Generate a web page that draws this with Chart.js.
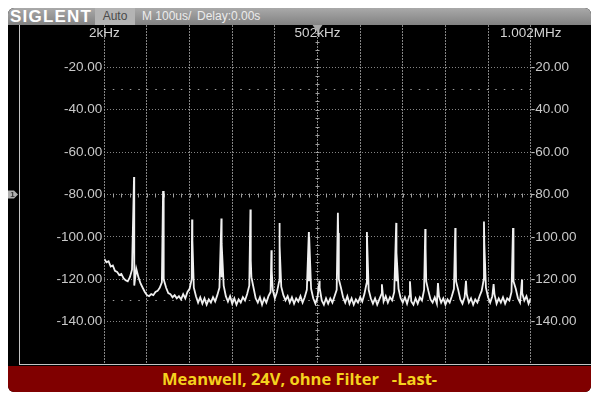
<!DOCTYPE html>
<html>
<head>
<meta charset="utf-8">
<script src="https://cdn.jsdelivr.net/npm/chart.js@4.4.1/dist/chart.umd.min.js"></script>
<style>
    body { margin: 0; width: 600px; height: 400px; background: #fff; position: relative; overflow: hidden; }
    #frame { position: absolute; left: 8px; top: 8px; width: 583px; height: 384px; background: #000; border-radius: 6px; overflow: hidden; }
    #head { position: absolute; left: 0; top: 0; width: 583px; height: 17px; background: linear-gradient(#a9a9a9, #828282); }
    #head span { position: absolute; top: 0; line-height: 17px; white-space: nowrap; }
    .brand { left: 2px; font: bold 17px "Liberation Sans", Arial, sans-serif; letter-spacing: 1.2px; color: #fff; }
    .auto { left: 87px; width: 40px; height: 17px; background: #b4b4b4; color: #4a4a4a; font: 12px "Liberation Sans", Arial, sans-serif; text-align: center; }
    .info { font: 12px "Liberation Sans", Arial, sans-serif; color: #ececec; }
    #fft { position: absolute; left: 0; top: 17px; }
    #banner { position: absolute; left: 0; top: 358px; width: 583px; height: 26px; background: #800000; color: #f5d21e;
              font: bold 16.5px "Open Sans", sans-serif; line-height: 26px; text-align: center; white-space: pre; }
</style>
</head>
<body>
<div id="frame">
    <div id="head">
        <span class="brand">SIGLENT</span>
        <span class="auto">Auto</span>
        <span class="info" style="left:134px">M 100us/</span>
        <span class="info" style="left:189px">Delay:0.00s</span>
    </div>
    <canvas id="fft" width="583" height="341"></canvas>
    <div id="banner">Meanwell, 24V, ohne Filter   -Last-</div>
</div>
<script>
// axis
const freqTicks = [2, 102, 202, 302, 402, 502, 602, 702, 802, 902, 1002];
const levelTicks = [0, -20, -40, -60, -80, -100, -120, -140, -160];
const topLabelFreqs = [2, 502, 1002];
const topLabels = ['2kHz', '502kHz', '1.002MHz'];
const refLevels = [-30, -130];

// noise floor, one value every 5 kHz starting at 2 kHz
const floorStartKHz = 2;
const floorStepKHz = 5;
const floorDb = [
    -110.5, -112, -111.5, -114, -113.5, -116, -116.5, -118, -117.5, -119.5,
    -120.5, -121, -119, -115.5, -114, -115, -119, -122, -124, -126,
    -127.5, -128, -127, -127.5, -126, -125.5, -124, -121.5, -120, -124,
    -126.5, -127, -128.5, -127.5, -129, -128, -129.5, -127, -129, -126,
    -124.5, -120, -124, -128, -131, -128.5, -131.5, -129, -132, -129.5,
    -131, -128.5, -130.5, -127.5, -124, -119, -123, -128, -130.5, -128,
    -131.5, -129, -132, -129.5, -131, -128.5, -130, -127, -123, -119,
    -124, -129, -131, -128.5, -132, -129, -131, -128, -126, -125,
    -129, -126, -121, -123.5, -127.5, -130, -128, -131, -128.5, -131.5,
    -129, -130.5, -128, -131, -128.5, -125, -121, -124.5, -129, -131.5,
    -128.5, -124, -130, -132, -129, -131.5, -129, -131, -128, -125,
    -120, -124, -128.5, -131, -128, -131.5, -129, -132, -129.5, -131,
    -128.5, -130.5, -127, -122, -125, -129, -131.5, -129, -132, -129.5,
    -127, -130.5, -128, -131, -128.5, -130, -126, -121, -124.5, -129,
    -131, -128.5, -131.5, -128, -130.5, -132, -129, -131.5, -128.5, -130,
    -125, -121, -125.5, -129.5, -131, -128.5, -131.5, -128, -131, -129,
    -132, -129.5, -131, -128, -124.5, -121, -125, -129.5, -131.5, -128.5,
    -127, -131, -129, -132, -129.5, -131, -128, -125.5, -120, -124,
    -128.5, -131, -128, -127, -131.5, -129, -131, -128.5, -131.5, -129,
    -130, -126, -121, -124.5, -129, -131, -126.5, -130, -128, -131.5,
    -129
];

// harmonics
const peakKHz = [71.7, 139.8, 207.8, 276.6, 344.7, 393.9, 412.7, 481.7, 549.8, 617.9, 686.6, 754.7, 825.1, 892.4, 960.5];
const peakDb = [-71.7, -78.3, -91.8, -91.3, -87.1, -106.3, -93.4, -97.7, -88.6, -97.7, -93.4, -96.3, -95.8, -92.7, -95.8];
const shoulderDb = [-123, -109.8, -101.6, -103.2, -111.1, -116, -104, -100, -98.2, -104, -107.5, -105.3, -104, -103, -104];

// small spurs
const spurKHz = [506.6, 653, 718.8, 784.5, 850.2, 915, 981.6];
const spurDb = [-120.7, -122.4, -121, -121.8, -120.7, -122.3, -120.1];

function buildTrace() {
    const pts = floorDb.map((v, i) => ({ x: floorStartKHz + i * floorStepKHz, y: v }));
    peakKHz.forEach((f, i) => {
        pts.push({ x: f, y: peakDb[i] });
        pts.push({ x: f + 0.8, y: shoulderDb[i] });
    });
    spurKHz.forEach((f, i) => pts.push({ x: f, y: spurDb[i] }));
    return pts.sort((a, b) => a.x - b.x);
}

const labelFont = { family: '"Liberation Sans", Arial, sans-serif', size: 13.5 };
const labelColor = '#c9c9c9';
const gridColor = 'rgba(165,165,165,0.8)';

// no label at the top and bottom edge
function dbLabel(v) {
    if (v === 0 || v === -160) return null;
    return v.toFixed(2);
}

function fitY(width) {
    return s => { s.width = width; s.paddingTop = 0; s.paddingBottom = 0; };
}

const scopeOverlay = {
    id: 'scopeOverlay',
    beforeDatasetsDraw(chart) {
        const ctx = chart.ctx;
        const area = chart.chartArea;
        const xs = chart.scales.x, ys = chart.scales.y;
        ctx.save();
        ctx.strokeStyle = 'rgba(175,175,175,0.9)';
        ctx.lineWidth = 1;
        // dotted reference lines
        ctx.setLineDash([1.5, 7]);
        refLevels.forEach(l => {
            const py = Math.round(ys.getPixelForValue(l)) + 0.5;
            ctx.beginPath(); ctx.moveTo(area.left, py); ctx.lineTo(area.right, py); ctx.stroke();
        });
        ctx.setLineDash([]);
        // ticks on the centre lines
        const cy = Math.round(ys.getPixelForValue(-80)) + 0.5;
        const cx = Math.round(xs.getPixelForValue(502)) + 0.5;
        ctx.beginPath();
        for (let f = 2; f <= 1002; f += 20) {
            const px = Math.round(xs.getPixelForValue(f)) + 0.5;
            ctx.moveTo(px, cy - 2); ctx.lineTo(px, cy + 2);
        }
        for (let d = 0; d >= -160; d -= 4) {
            const py = Math.round(ys.getPixelForValue(d)) + 0.5;
            ctx.moveTo(cx - 2, py); ctx.lineTo(cx + 2, py);
        }
        ctx.stroke();
        // left border and bottom line
        ctx.strokeStyle = '#c4c4c4';
        ctx.beginPath();
        ctx.moveTo(11.5, 0); ctx.lineTo(11.5, area.bottom);
        ctx.moveTo(11, Math.round(area.bottom) + 0.5); ctx.lineTo(chart.width, Math.round(area.bottom) + 0.5);
        ctx.stroke();
        ctx.restore();
    },
    afterDraw(chart) {
        const ctx = chart.ctx;
        const xs = chart.scales.x, ys = chart.scales.y;
        ctx.save();
        ctx.font = '13.5px "Liberation Sans", Arial, sans-serif';
        ctx.fillStyle = '#d4d4d4';
        ctx.textAlign = 'center';
        ctx.textBaseline = 'middle';
        topLabelFreqs.forEach((f, i) => ctx.fillText(topLabels[i], xs.getPixelForValue(f), 8));
        // trigger marker
        const cx = xs.getPixelForValue(502);
        ctx.fillStyle = '#a8a8a8';
        ctx.beginPath();
        ctx.moveTo(cx - 5, 0); ctx.lineTo(cx + 5, 0); ctx.lineTo(cx, 7); ctx.closePath();
        ctx.fill();
        // channel 1 marker
        const my = ys.getPixelForValue(-80);
        ctx.fillStyle = '#b0b0b0';
        ctx.beginPath();
        ctx.moveTo(0, my - 4); ctx.lineTo(6, my - 4); ctx.lineTo(10, my); ctx.lineTo(6, my + 4); ctx.lineTo(0, my + 4);
        ctx.closePath(); ctx.fill();
        ctx.fillStyle = '#333';
        ctx.font = 'bold 8px "Liberation Sans", Arial, sans-serif';
        ctx.fillText('1', 4.5, my + 0.5);
        ctx.restore();
    }
};

new Chart(document.getElementById('fft').getContext('2d'), {
    type: 'line',
    data: {
        datasets: [{
            label: 'FFT',
            data: buildTrace(),
            borderColor: '#f0f0f0',
            borderWidth: 1.8,
            pointRadius: 0,
            tension: 0
        }]
    },
    options: {
        responsive: false,
        animation: false,
        layout: { autoPadding: false, padding: { left: 0, right: 0, top: 0, bottom: 2 } },
        plugins: { legend: { display: false }, tooltip: { enabled: false } },
        scales: {
            x: {
                type: 'linear',
                min: 2,
                max: 1002,
                afterBuildTicks: s => { s.ticks = freqTicks.map(v => ({ value: v })); },
                afterFit: s => { s.height = 0; },
                ticks: { display: false },
                grid: { color: gridColor, drawTicks: false },
                border: { display: false, dash: [2, 1] }
            },
            y: {
                position: 'left',
                min: -160,
                max: 0,
                afterBuildTicks: s => { s.ticks = levelTicks.map(v => ({ value: v })); },
                afterFit: fitY(96.3),
                ticks: { callback: dbLabel, font: labelFont, color: labelColor, padding: 2 },
                grid: { color: gridColor, drawTicks: false },
                border: { display: false, dash: [1, 2] }
            },
            y2: {
                position: 'right',
                min: -160,
                max: 0,
                afterBuildTicks: s => { s.ticks = levelTicks.map(v => ({ value: v })); },
                afterFit: fitY(60.3),
                ticks: { callback: dbLabel, font: labelFont, color: labelColor, padding: 0 },
                grid: { display: false, drawTicks: false },
                border: { display: false }
            }
        }
    },
    plugins: [scopeOverlay]
});
</script>
</body>
</html>
